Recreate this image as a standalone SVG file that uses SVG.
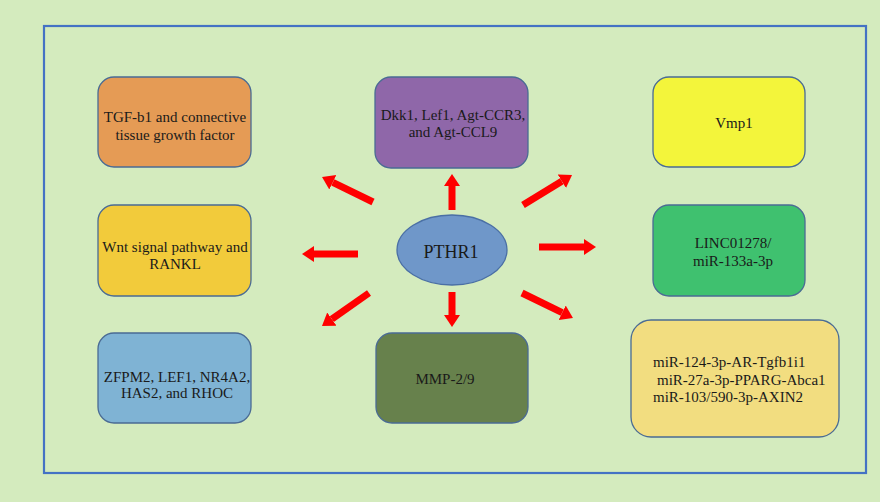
<svg xmlns="http://www.w3.org/2000/svg" width="880" height="502" viewBox="0 0 880 502">
<defs>
<marker id="ah" markerUnits="userSpaceOnUse" markerWidth="13" markerHeight="17" refX="0" refY="8" orient="auto">
<path d="M0,0 L12,8 L0,16 z" fill="#ff0000"/>
</marker>
<style>
.box{stroke:#4a6b94;stroke-width:1.3}
.t{font-family:"Liberation Serif","Times New Roman",serif;font-size:15px;fill:#1a1a1a;text-anchor:middle}
.a{stroke:#ff0000;stroke-width:7;fill:none;marker-end:url(#ah)}
</style>
</defs>
<rect x="0" y="0" width="880" height="502" fill="#d4ebbe"/>
<rect x="44" y="26" width="822" height="447" fill="none" stroke="#4472c4" stroke-width="2.2"/>

<g id="tgf">
<rect class="box" x="98" y="77" width="153" height="90" rx="16" fill="#e59b55"/>
<text class="t" x="175" y="122">TGF-b1 and connective</text>
<text class="t" x="175" y="140">tissue growth factor</text>
</g>
<g id="dkk1">
<rect class="box" x="375" y="77" width="153" height="91" rx="16" fill="#8f67a9"/>
<text class="t" x="453" y="120">Dkk1, Lef1, Agt-CCR3,</text>
<text class="t" x="453" y="137">and Agt-CCL9</text>
</g>
<g id="vmp1">
<rect class="box" x="653" y="77" width="152" height="90" rx="16" fill="#f3f53b"/>
<text class="t" x="734" y="128">Vmp1</text>
</g>
<g id="wnt">
<rect class="box" x="98" y="205" width="153" height="91" rx="16" fill="#f2cb3b"/>
<text class="t" x="175" y="252">Wnt signal pathway and</text>
<text class="t" x="175" y="269">RANKL</text>
</g>
<g id="linc">
<rect class="box" x="653" y="205" width="152" height="91" rx="16" fill="#3fc16f"/>
<text class="t" x="733" y="248">LINC01278/</text>
<text class="t" x="733" y="266">miR-133a-3p</text>
</g>
<g id="zfpm2">
<rect class="box" x="98" y="333" width="153" height="90" rx="16" fill="#7fb3d4"/>
<text class="t" x="177" y="382">ZFPM2, LEF1, NR4A2,</text>
<text class="t" x="177" y="398">HAS2, and RHOC</text>
</g>
<g id="mmp">
<rect class="box" x="376" y="333" width="152" height="90" rx="16" fill="#67814c"/>
<text class="t" x="445" y="384">MMP-2/9</text>
</g>
<g id="mir">
<rect class="box" x="631" y="320" width="208" height="117" rx="20" fill="#f2dd80"/>
<text class="t" x="653" y="367" style="text-anchor:start">miR-124-3p-AR-Tgfb1i1</text>
<text class="t" x="657" y="385" style="text-anchor:start">miR-27a-3p-PPARG-Abca1</text>
<text class="t" x="653" y="402" style="text-anchor:start">miR-103/590-3p-AXIN2</text>
</g>
<g id="pthr1">
<ellipse cx="452" cy="250" rx="55" ry="35" fill="#6f97c9" stroke="#4a6fa5" stroke-width="1.3"/>
<text class="t" x="451" y="258" style="font-size:18px">PTHR1</text>
</g>

<g id="connectors">
<line class="a" x1="452" y1="210" x2="452" y2="186"/>
<line class="a" x1="373" y1="202" x2="332.8" y2="182.3"/>
<line class="a" x1="523" y1="205" x2="561.8" y2="181.2"/>
<line class="a" x1="358" y1="254" x2="314" y2="254"/>
<line class="a" x1="539" y1="247" x2="584" y2="247"/>
<line class="a" x1="369" y1="293" x2="331.8" y2="319.1"/>
<line class="a" x1="452" y1="292" x2="452" y2="315"/>
<line class="a" x1="522" y1="293" x2="562.2" y2="312.7"/>
</g>
</svg>
